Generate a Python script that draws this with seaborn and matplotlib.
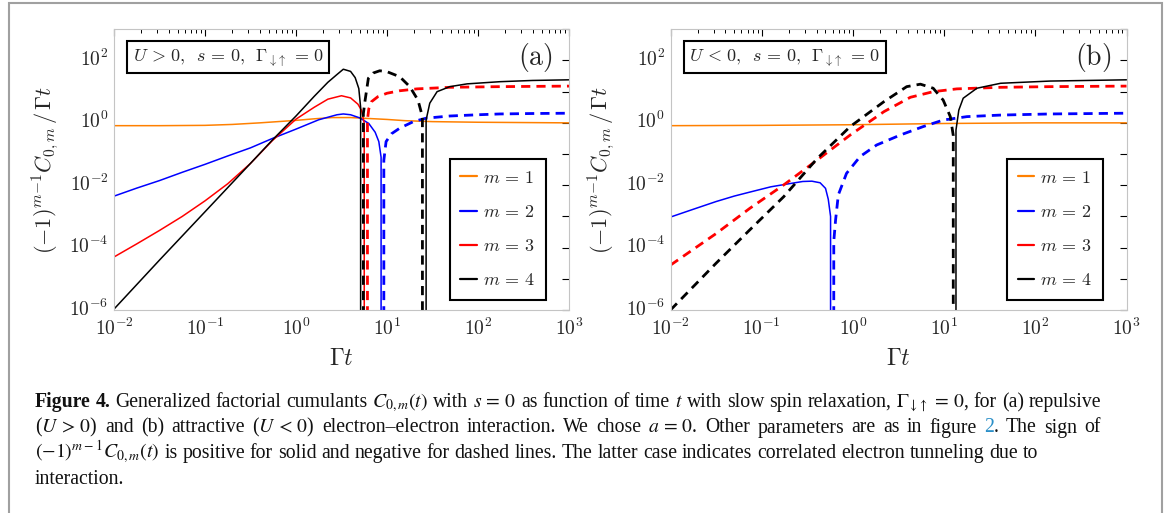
import matplotlib
matplotlib.use("Agg")
import matplotlib.pyplot as plt
import matplotlib.transforms as mtransforms
import numpy as np
import pandas as pd
import seaborn as sns
from matplotlib.lines import Line2D
from matplotlib.patches import Rectangle
from matplotlib.ticker import LogLocator, FuncFormatter, NullFormatter, NullLocator

# values of (-1)^(m-1) C_{0,m} / (Gamma t)
# (sign > 0 -> solid line, sign < 0 -> dashed line, 0 -> sign change)
M_VALUES = [1, 2, 3, 4]
COLORS = ["#ff8000", "#0000ff", "#ff0000", "#000000"]

# panel (a): U > 0
A1_X = [0.01, 0.0316, 0.1, 0.2, 0.398, 0.631, 1, 1.585, 2.51, 3.98, 6.31, 10, 15.8, 31.6, 100, 316, 1000]
A1_Y = [0.813, 0.813, 0.832, 0.891, 1.0, 1.096, 1.202, 1.349, 1.479, 1.479, 1.38, 1.288, 1.175, 1.096, 1.047, 1.023, 1.0]

A2_X = [0.01, 0.0178, 0.0316, 0.0562, 0.1, 0.178, 0.316, 0.55, 1, 1.78, 2.82, 3.31, 3.98, 5.01, 6.31, 7.41, 8.13, 8.61, 8.91,
        9.23, 9.77, 11.2, 13.8, 19.5, 26.9, 49, 100, 174, 398, 1000]
A2_Y = [4.47e-3, 8.1e-3, 1.41e-2, 2.6e-2, 4.68e-2, 8.7e-2, 0.158, 0.316, 0.631, 1.259, 1.82, 1.93, 1.82, 1.445, 0.955, 0.501, 0.251, 0.0794, 0,
        -0.0631, -0.251, -0.447, -0.676, -1.096, -1.413, -1.66, -1.82, -1.93, -1.995, -2.04]

A3_X = [0.01, 0.0178, 0.0316, 0.0562, 0.1, 0.178, 0.316, 0.55, 1, 1.585, 2.24, 3.16, 3.98, 4.79, 5.25, 5.62, 5.89,
        6.1, 6.31, 6.76, 7.94, 10, 13.8, 21.4, 49, 174, 1000]
A3_Y = [5.01e-5, 1.32e-4, 3.55e-4, 1e-3, 3.16e-3, 1.12e-2, 5.01e-2, 0.27, 1.318, 3.16, 5.75, 7.41, 6.31, 3.98, 2.51, 1.0, 0,
        -1.259, -2.82, -4.79, -6.92, -8.91, -10.7, -12.3, -13.8, -14.5, -15.1]

A4_X = [0.01, 0.0316, 0.1, 0.316, 0.55, 1, 1.585, 2.24, 2.82, 3.31, 3.98, 4.47, 4.9, 5.13, 5.31,
        5.5, 5.75, 6.24, 7.08, 8.32, 10, 13.8, 17.8, 21.9, 24.5, 26.3,
        26.9, 29.5, 35.5, 49, 75.9, 174, 398, 1000]
A4_Y = [1.07e-6, 3.98e-5, 1.41e-3, 5.01e-2, 0.282, 1.66, 7.08, 20, 35.5, 52.5, 44.7, 28.2, 12.6, 3.16, 0,
        -2.0, -5.37, -26.9, -39.8, -46.8, -43.7, -30.2, -14.5, -5.37, -1.585, 0,
        1.23, 4.27, 10, 14.5, 17.8, 20.9, 22.9, 24.0]

# panel (b): U < 0
B1_X = [0.01, 0.1, 1, 3.16, 10, 31.6, 100, 1000]
B1_Y = [0.813, 0.832, 0.871, 0.912, 0.955, 0.977, 1.0, 1.0]

B2_X = [0.01, 0.0178, 0.0316, 0.0501, 0.0741, 0.126, 0.2, 0.282, 0.355, 0.437, 0.501, 0.537, 0.569, 0.596,
        0.617, 0.646, 0.692, 0.851, 1.2, 1.82, 3.31, 5.89, 9.77, 17.8, 41.7, 145, 1000]
B2_Y = [9.55e-4, 1.7e-3, 3.0e-3, 4.5e-3, 6.03e-3, 8.91e-3, 1.12e-2, 1.32e-2, 1.35e-2, 1.2e-2, 7.94e-3, 3.55e-3, 1e-3, 0,
        -1.58e-4, -7.76e-4, -4.9e-3, -2.4e-2, -8.32e-2, -0.195, -0.407, -0.759, -1.23, -1.585, -1.778, -1.93, -2.04]

B3_X = [0.01, 0.0316, 0.0741, 0.174, 0.407, 0.933, 2.19, 4.27, 7.59, 13.8, 41.7, 145, 1000]
B3_Y = [-2.75e-5, -2.82e-4, -1.82e-3, -1.02e-2, -6.46e-2, -0.407, -2.29, -6.61, -10, -12.3, -13.8, -14.5, -15.1]

B4_X = [0.01, 0.0316, 0.0741, 0.174, 0.407, 0.933, 2.19, 3.89, 5.5, 7.59, 9.77, 11.7, 12.6, 13.0,
        13.5, 14.5, 16.2, 22.9, 41.7, 145, 1000]
B4_Y = [-1e-6, -3.16e-5, -3.72e-4, -4.27e-3, -7.24e-2, -0.759, -4.79, -14.5, -17.4, -12.9, -5.37, -1.585, -0.398, 0,
        0.589, 2.57, 6.17, 12.9, 18.6, 21.9, 24.0]

PANEL_A = [(A1_X, A1_Y), (A2_X, A2_Y), (A3_X, A3_Y), (A4_X, A4_Y)]
PANEL_B = [(B1_X, B1_Y), (B2_X, B2_Y), (B3_X, B3_Y), (B4_X, B4_Y)]
BOX_TEXT = [r"$U\,>\,0,\ \,s\,=\,0,\ \,\Gamma_{\downarrow\!\uparrow}\,=\,0$",
            r"$U\,<\,0,\ \,s\,=\,0,\ \,\Gamma_{\downarrow\!\uparrow}\,=\,0$"]
PANEL_LABELS = [r"$\mathrm{(a)}$", r"$\mathrm{(b)}$"]

# caption, one entry per printed line: (text, style, justified)
CAPTION_LINES = [
    ([("Figure 4.", "bold"),
      (r"Generalized factorial cumulants $C_{0,m}(t)$ with $s\,=\,0$ as function of time $t$ with slow "
       r"spin relaxation, $\Gamma_{\downarrow\!\uparrow}\,=\,0$, for (a) repulsive", "plain")], True),
    ([(r"($U\,>\,0$) and (b) attractive ($U\,<\,0$) electron–electron interaction. We chose $a\,=\,0$. "
       r"Other parameters are as in figure", "plain"), ("2", "link"), ("~. The sign of", "plain")], True),
    ([(r"$(-1)^{m-1}C_{0,m}(t)$ is positive for solid and negative for dashed lines. The latter case "
       r"indicates correlated electron tunneling due to", "plain")], False),
    ([("interaction.", "plain")], False),
]


def sign_segments(x, v):
    """Split a signed curve into pieces of constant sign (zeros shared)."""
    segs = []
    xs, ys, sgn = [], [], 0
    for xi, vi in zip(x, v):
        if vi == 0:
            xs.append(xi)
            ys.append(0.0)
            segs.append((xs, ys, sgn))
            xs, ys, sgn = [xi], [0.0], 0
        else:
            if sgn == 0:
                sgn = 1 if vi > 0 else -1
            xs.append(xi)
            ys.append(abs(vi))
    segs.append((xs, ys, sgn))
    return segs


sns.set_style("white")
plt.rcParams["mathtext.fontset"] = "cm"
plt.rcParams["font.family"] = ["Liberation Serif", "DejaVu Serif"]

W, H = 1168, 513
fig = plt.figure(figsize=(W / 100, H / 100), dpi=100)
ax_a = fig.add_axes([114 / W, 1 - 310 / H, 455 / W, 280.7 / H])
ax_b = fig.add_axes([670.5 / W, 1 - 310 / H, 456 / W, 280.7 / H])


def log_label(v, pos):
    e = int(round(np.log10(v)))
    return r"$10^{%d}$" % e


def log_label_even(v, pos):
    e = int(round(np.log10(v)))
    if e % 2 == 0 and e < 3:
        return r"$10^{%d}$" % e
    return ""


lift = mtransforms.ScaledTranslation(0, 3 / 100, fig.dpi_scale_trans)

for ax, panel, box, lab in zip([ax_a, ax_b], [PANEL_A, PANEL_B], BOX_TEXT, PANEL_LABELS):
    for (x, v), c in zip(panel, COLORS):
        for xs, ys, sgn in sign_segments(x, v):
            df = pd.DataFrame({"t": xs, "c": ys})
            if sgn >= 0:
                sns.lineplot(data=df, x="t", y="c", ax=ax, color=c, lw=1.1,
                             estimator=None, sort=False)
            else:
                sns.lineplot(data=df, x="t", y="c", ax=ax, color=c, lw=2.0,
                             linestyle=(0, (3.3, 2.2)), estimator=None, sort=False)

    ax.set_xscale("log")
    ax.set_yscale("log", nonpositive="clip")
    ax.set_xlim(1e-2, 1e3)
    ax.set_ylim(1e-6, 1e3)

    ax.xaxis.set_major_locator(LogLocator(base=10, numticks=20))
    ax.xaxis.set_minor_locator(LogLocator(base=10, subs=np.arange(2, 10), numticks=20))
    ax.xaxis.set_major_formatter(FuncFormatter(log_label))
    ax.xaxis.set_minor_formatter(NullFormatter())
    ax.yaxis.set_major_locator(LogLocator(base=10, numticks=20))
    ax.yaxis.set_minor_locator(NullLocator())
    ax.yaxis.set_major_formatter(FuncFormatter(log_label_even))

    ax.tick_params(which="both", direction="in", top=True, right=True, color="black",
                   labelsize=14)
    ax.tick_params(axis="x", pad=5.5)
    ax.tick_params(axis="y", pad=4)
    ax.tick_params(which="major", length=5, width=0.8)
    ax.tick_params(which="minor", length=3, width=0.7)
    for tl in ax.get_yticklabels():
        tl.set_transform(tl.get_transform() + lift)
    for sp in ax.spines.values():
        sp.set_color("#c4c4c4")
        sp.set_linewidth(0.8)

    ax.set_xlabel(r"$\Gamma t$", fontsize=17, labelpad=7)
    ax.set_ylabel(r"$(\mathrm{-}1)^{m\mathrm{-}1}C_{0,m}\,/\,\Gamma t$", fontsize=16, labelpad=6)

    ax.text(0.251, 0.901, box, transform=ax.transAxes, ha="center", va="center", fontsize=13,
            bbox=dict(boxstyle="square,pad=0.3", fc="white", ec="black", lw=1.5))
    ax.text(0.927, 0.901, lab, transform=ax.transAxes, ha="center", va="center", fontsize=20)

    handles = [Line2D([], [], color=c, lw=1.6) for c in COLORS]
    labels = [r"$m\,=\,%d$" % m for m in M_VALUES]
    leg = ax.legend(handles, labels, loc="upper right", bbox_to_anchor=(0.949, 0.538),
                    frameon=True, fancybox=False, edgecolor="black", framealpha=1,
                    fontsize=13, handlelength=0.9, handletextpad=0.35, labelspacing=0.95,
                    borderpad=0.6, borderaxespad=0)
    leg.get_frame().set_linewidth(1.5)

# outer frame of the figure box
fig.patches.append(Rectangle((9 / W, -0.05), (1162 - 9) / W, 1.05 - 3 / H, transform=fig.transFigure,
                             fill=False, ec="#a0a0a0", lw=1.5))

# caption, word by word so that the first lines can be justified
renderer = fig.canvas.get_renderer()
CAP = dict(fontsize=14.2, family=["Liberation Serif", "DejaVu Serif"], math_fontfamily="stix",
           color="#111111", ha="left", va="baseline")
STYLES = {"plain": {}, "bold": dict(fontweight="bold"), "link": dict(color="#2a8fc8")}
SPACE = 4.9
LEFT, RIGHT = 35, 1101
BASELINES = [407, 432.5, 458, 483.5]

for (runs, justify), base in zip(CAPTION_LINES, BASELINES):
    words = []  # (text, style, joined to previous without a space)
    for text, style in runs:
        glued = text.startswith("~")
        for k, w in enumerate(text.lstrip("~").split(" ")):
            words.append((w, style, glued and k == 0))
    items = []
    for w, style, glued in words:
        opts = dict(CAP)
        opts.update(STYLES[style])
        t = fig.text(0, 1 - base / H, w, **opts)
        items.append((t, t.get_window_extent(renderer).width, glued))
    n_gaps = sum(1 for _, _, g in items[1:] if not g)
    gap = SPACE
    if justify and n_gaps:
        gap = (RIGHT - LEFT - sum(wd for _, wd, _ in items)) / n_gaps
    x = LEFT
    for i, (t, wd, glued) in enumerate(items):
        if i > 0 and not glued:
            x += gap
        t.set_x(x / W)
        x += wd

fig.savefig("out.png", dpi=100)
